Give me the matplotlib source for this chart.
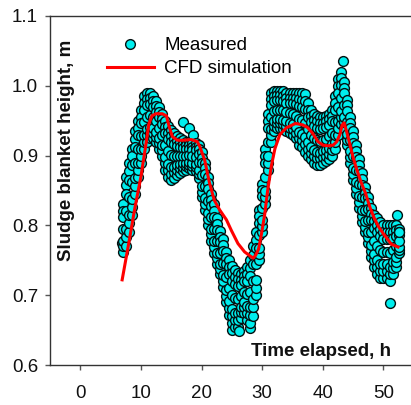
import numpy as np
import matplotlib
matplotlib.use("Agg")
import matplotlib.pyplot as plt
from matplotlib.lines import Line2D

plt.rcParams['font.family'] = ['Liberation Sans', 'DejaVu Sans']

# ---- Measured sludge blanket height (band) ----
meas_t = [7.0, 7.5, 8.0, 8.5, 9.0, 9.5, 10.0, 10.5, 11.0, 11.5, 12.0, 12.5, 13.0, 13.5,
          14.0, 14.5, 15.0, 15.5, 16.0, 16.5, 17.0, 17.5, 18.0, 18.5, 19.0, 19.5, 20.0,
          20.5, 21.0, 21.5, 22.0, 22.5, 23.0, 23.5, 24.0, 24.5, 25.0, 25.5, 26.0, 26.5,
          27.0, 27.5, 28.0, 28.5, 29.0, 29.5, 30.0, 30.5, 31.0, 31.5, 32.0, 32.5, 33.0,
          33.5, 34.0, 34.5, 35.0, 35.5, 36.0, 36.5, 37.0, 37.5, 38.0, 38.5, 39.0, 39.5,
          40.0, 40.5, 41.0, 41.5, 42.0, 42.5, 43.0, 43.5, 44.0, 44.5, 45.0, 45.5, 46.0,
          46.5, 47.0, 47.5, 48.0, 48.5, 49.0, 49.5, 50.0, 50.5, 51.0, 51.5, 52.0, 52.5]
meas_upper = [0.830, 0.870, 0.890, 0.910, 0.935, 0.950, 0.965, 0.985, 0.990, 0.990, 0.985, 0.978,
              0.970, 0.960, 0.950, 0.942, 0.937, 0.932, 0.928, 0.925, 0.922, 0.920, 0.920, 0.918,
              0.918, 0.915, 0.905, 0.890, 0.870, 0.845, 0.830, 0.810, 0.792, 0.780, 0.762, 0.750,
              0.742, 0.736, 0.732, 0.730, 0.735, 0.740, 0.750, 0.770, 0.790, 0.822, 0.860, 0.910,
              0.960, 0.990, 0.993, 0.993, 0.993, 0.992, 0.990, 0.990, 0.990, 0.990, 0.990, 0.990,
              0.988, 0.975, 0.965, 0.960, 0.957, 0.955, 0.955, 0.957, 0.960, 0.965, 0.985, 1.010,
              1.020, 1.005, 0.980, 0.955, 0.935, 0.915, 0.895, 0.875, 0.855, 0.840, 0.825, 0.815,
              0.810, 0.805, 0.800, 0.800, 0.800, 0.800, 0.800, 0.795]
meas_upper2 = [0.821, 0.858, 0.878, 0.899, 0.924, 0.940, 0.956, 0.976, 0.981, 0.982, 0.978, 0.971,
               0.963, 0.953, 0.941, 0.933, 0.928, 0.924, 0.921, 0.919, 0.917, 0.915, 0.915, 0.913,
               0.913, 0.909, 0.897, 0.882, 0.861, 0.837, 0.821, 0.802, 0.784, 0.772, 0.753, 0.740,
               0.732, 0.726, 0.723, 0.722, 0.728, 0.731, 0.739, 0.758, 0.779, 0.813, 0.851, 0.900,
               0.950, 0.981, 0.986, 0.987, 0.987, 0.985, 0.983, 0.983, 0.983, 0.982, 0.981, 0.980,
               0.978, 0.966, 0.957, 0.951, 0.949, 0.947, 0.947, 0.949, 0.952, 0.957, 0.976, 1.000,
               1.011, 0.997, 0.972, 0.947, 0.927, 0.907, 0.887, 0.867, 0.847, 0.832, 0.817, 0.806,
               0.800, 0.795, 0.791, 0.791, 0.790, 0.791, 0.793, 0.791]
meas_upper_mid = [0.812, 0.845, 0.865, 0.887, 0.912, 0.930, 0.946, 0.966, 0.972, 0.974, 0.970, 0.963,
                  0.955, 0.945, 0.932, 0.924, 0.919, 0.916, 0.914, 0.912, 0.911, 0.910, 0.910, 0.908,
                  0.908, 0.903, 0.889, 0.873, 0.852, 0.828, 0.812, 0.794, 0.776, 0.763, 0.744, 0.730,
                  0.721, 0.716, 0.713, 0.714, 0.720, 0.721, 0.728, 0.745, 0.768, 0.804, 0.842, 0.890,
                  0.940, 0.972, 0.978, 0.980, 0.980, 0.978, 0.976, 0.975, 0.975, 0.974, 0.971, 0.970,
                  0.967, 0.956, 0.948, 0.942, 0.940, 0.938, 0.939, 0.941, 0.944, 0.949, 0.966, 0.990,
                  1.001, 0.989, 0.964, 0.939, 0.918, 0.898, 0.878, 0.858, 0.839, 0.824, 0.808, 0.796,
                  0.790, 0.785, 0.781, 0.781, 0.780, 0.782, 0.785, 0.786]
meas_mid = [0.795, 0.820, 0.840, 0.862, 0.890, 0.910, 0.928, 0.948, 0.955, 0.958, 0.955, 0.949,
            0.940, 0.930, 0.915, 0.906, 0.901, 0.900, 0.900, 0.900, 0.900, 0.900, 0.901, 0.899,
            0.898, 0.891, 0.872, 0.856, 0.835, 0.812, 0.795, 0.778, 0.761, 0.746, 0.726, 0.711,
            0.701, 0.696, 0.694, 0.699, 0.705, 0.702, 0.705, 0.720, 0.745, 0.786, 0.825, 0.870,
            0.920, 0.955, 0.964, 0.966, 0.966, 0.965, 0.962, 0.961, 0.960, 0.957, 0.952, 0.951,
            0.946, 0.938, 0.930, 0.925, 0.922, 0.921, 0.922, 0.924, 0.928, 0.932, 0.948, 0.970,
            0.982, 0.972, 0.948, 0.922, 0.900, 0.880, 0.860, 0.840, 0.822, 0.808, 0.790, 0.778,
            0.770, 0.765, 0.762, 0.762, 0.760, 0.765, 0.770, 0.778]
meas_lower_mid = [0.778, 0.795, 0.815, 0.838, 0.868, 0.890, 0.909, 0.929, 0.938, 0.941, 0.940, 0.934,
                  0.925, 0.915, 0.898, 0.888, 0.883, 0.884, 0.886, 0.888, 0.889, 0.890, 0.891, 0.889,
                  0.888, 0.880, 0.856, 0.839, 0.818, 0.795, 0.778, 0.761, 0.745, 0.729, 0.708, 0.691,
                  0.680, 0.675, 0.674, 0.683, 0.690, 0.684, 0.683, 0.695, 0.722, 0.768, 0.808, 0.850,
                  0.900, 0.938, 0.950, 0.953, 0.953, 0.951, 0.949, 0.946, 0.945, 0.941, 0.934, 0.931,
                  0.926, 0.919, 0.912, 0.908, 0.905, 0.904, 0.906, 0.908, 0.911, 0.916, 0.929, 0.950,
                  0.964, 0.956, 0.931, 0.906, 0.882, 0.862, 0.842, 0.822, 0.806, 0.791, 0.772, 0.759,
                  0.750, 0.745, 0.744, 0.744, 0.740, 0.748, 0.755, 0.769]
meas_lower2 = [0.770, 0.783, 0.803, 0.827, 0.857, 0.880, 0.900, 0.920, 0.929, 0.933, 0.933, 0.927,
               0.918, 0.908, 0.889, 0.879, 0.874, 0.876, 0.879, 0.882, 0.884, 0.885, 0.887, 0.885,
               0.883, 0.874, 0.848, 0.831, 0.809, 0.787, 0.769, 0.753, 0.738, 0.721, 0.699, 0.682,
               0.670, 0.665, 0.665, 0.676, 0.683, 0.675, 0.672, 0.683, 0.711, 0.759, 0.799, 0.840,
               0.890, 0.929, 0.943, 0.947, 0.947, 0.945, 0.942, 0.939, 0.938, 0.933, 0.925, 0.922,
               0.916, 0.910, 0.904, 0.899, 0.896, 0.896, 0.898, 0.900, 0.903, 0.908, 0.920, 0.940,
               0.955, 0.948, 0.923, 0.898, 0.874, 0.854, 0.834, 0.814, 0.798, 0.783, 0.764, 0.750,
               0.740, 0.735, 0.735, 0.735, 0.730, 0.739, 0.748, 0.765]
meas_lower = [0.762, 0.770, 0.790, 0.815, 0.845, 0.870, 0.890, 0.910, 0.920, 0.925, 0.925, 0.920,
              0.910, 0.900, 0.880, 0.870, 0.865, 0.868, 0.872, 0.875, 0.878, 0.880, 0.882, 0.880,
              0.878, 0.868, 0.840, 0.822, 0.800, 0.778, 0.760, 0.745, 0.730, 0.712, 0.690, 0.672,
              0.660, 0.655, 0.655, 0.668, 0.675, 0.665, 0.660, 0.670, 0.700, 0.750, 0.790, 0.830,
              0.880, 0.920, 0.935, 0.940, 0.940, 0.938, 0.935, 0.932, 0.930, 0.925, 0.915, 0.912,
              0.905, 0.900, 0.895, 0.890, 0.887, 0.887, 0.890, 0.892, 0.895, 0.900, 0.910, 0.930,
              0.945, 0.940, 0.915, 0.890, 0.865, 0.845, 0.825, 0.805, 0.790, 0.775, 0.755, 0.740,
              0.730, 0.725, 0.725, 0.725, 0.720, 0.730, 0.740, 0.760]
# isolated measured points
extra_t = [6.8, 16.9, 18.0, 18.6, 25.0, 26.1, 28.0, 43.4, 52.3, 51.1, 52.6]
extra_h = [0.775, 0.948, 0.939, 0.930, 0.650, 0.648, 0.653, 1.035, 0.815, 0.689, 0.790]

# ---- CFD simulation ----
cfd_t = [6.9, 8.0, 9.0, 10.0, 10.8, 11.3, 11.8, 12.5, 13.5, 14.2, 14.7, 15.2, 16.0, 17.0,
         18.3, 19.3, 19.7, 20.5, 21.3, 22.1, 23.0, 24.1, 24.9, 26.0, 27.1, 28.2, 28.5,
         28.9, 29.4, 29.9, 30.4, 30.9, 31.5, 32.1, 32.9, 34.0, 35.5, 36.7, 37.5, 38.3,
         39.2, 40.0, 40.8, 41.7, 42.3, 42.8, 43.2, 43.5, 43.9, 44.4, 45.0, 45.6, 46.3,
         47.0, 47.8, 48.5, 49.2, 49.9, 50.6, 51.3, 52.4]
cfd_h = [0.722, 0.775, 0.825, 0.870, 0.915, 0.945, 0.957, 0.960, 0.960, 0.957, 0.940, 0.927,
         0.922, 0.922, 0.923, 0.920, 0.913, 0.894, 0.861, 0.836, 0.822, 0.808, 0.793, 0.774,
         0.762, 0.755, 0.753, 0.757, 0.766, 0.789, 0.815, 0.850, 0.885, 0.910, 0.930, 0.940,
         0.946, 0.944, 0.940, 0.932, 0.920, 0.915, 0.914, 0.915, 0.920, 0.930, 0.944, 0.947,
         0.935, 0.918, 0.897, 0.880, 0.862, 0.847, 0.825, 0.810, 0.798, 0.789, 0.781, 0.773,
         0.769]

x_ticks = [0, 10, 20, 30, 40, 50]
y_ticks = [0.6, 0.7, 0.8, 0.9, 1.0, 1.1]

# assemble measured points in time order
levels = [meas_upper, meas_lower, meas_upper2, meas_lower2, meas_upper_mid,
          meas_lower_mid, meas_mid]
pt_t = list(extra_t)
pt_h = list(extra_h)
for lev in levels:
    pt_t += meas_t
    pt_h += lev
pt_t = np.array(pt_t)
pt_h = np.array(pt_h)
order = np.argsort(pt_t, kind='mergesort')
pt_t = pt_t[order]
pt_h = pt_h[order]

FS = 13.5
fig = plt.figure(figsize=(4.11, 4.05), dpi=100)
ax = fig.add_axes([50/411, 1 - 365/405, (413.8 - 50)/411, (365 - 16)/405])

ax.scatter(pt_t, pt_h, s=50, facecolor='#00EEEE', edgecolor='#041010', linewidth=1.0, zorder=2)
ax.plot(cfd_t, cfd_h, color='#FF0000', lw=2.2, zorder=3)

ax.set_xlim(-5, 55)
ax.set_ylim(0.6, 1.1)
ax.set_xticks(x_ticks)
ax.set_yticks(y_ticks)
ax.set_yticklabels([f"{v:.1f}" for v in y_ticks])

for side in ['left', 'bottom', 'top']:
    ax.spines[side].set_color('#333333')
    ax.spines[side].set_linewidth(1.0)
ax.spines['right'].set_visible(False)
ax.tick_params(axis='both', direction='out', length=3.6, width=1.0, color='#555555',
               labelsize=FS, labelcolor='#111111')
ax.tick_params(axis='y', pad=5)
ax.tick_params(axis='x', pad=11)

ax.text(-2.3, 0.907, 'Sludge blanket height, m', rotation=90, ha='center', va='center',
        fontsize=FS, fontweight='bold', color='#111111')
ax.text(39.7, 0.619, 'Time elapsed, h', ha='center', va='center',
        fontsize=FS, fontweight='bold', color='#111111')

h1 = Line2D([], [], ls='none', marker='o', markersize=7.0, markerfacecolor='#00EEEE',
            markeredgecolor='#041010', markeredgewidth=1.0)
h2 = Line2D([], [], color='#FF0000', lw=2.2)
leg = ax.legend([h1, h2], ['Measured', 'CFD simulation'], loc='upper left',
                bbox_to_anchor=(57/363.8, 0.94), frameon=False, fontsize=FS,
                handlelength=2.5, handletextpad=0.55, labelspacing=0.32,
                borderpad=0, borderaxespad=0)

fig.savefig('out.png', dpi=100)
